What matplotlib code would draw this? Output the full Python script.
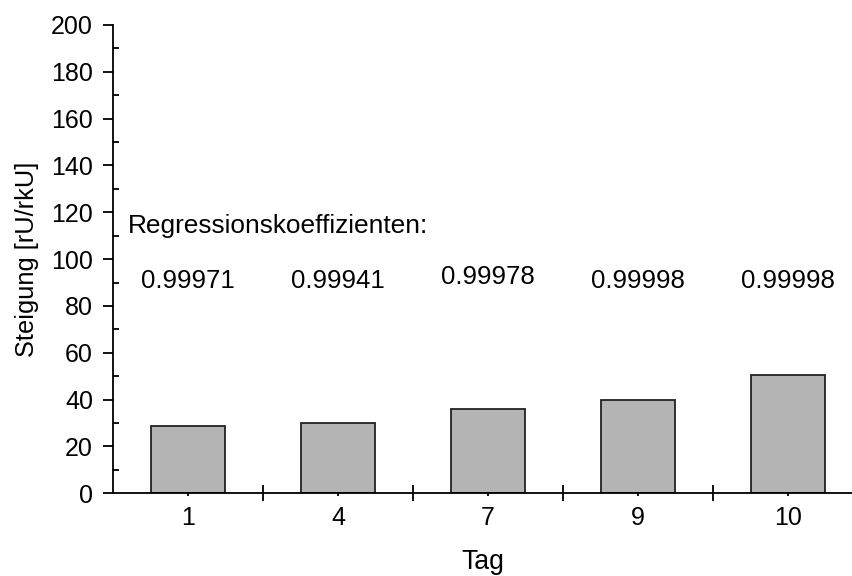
import matplotlib
matplotlib.use('Agg')
from matplotlib import pyplot as plt
from matplotlib.ticker import FixedLocator, MultipleLocator

plt.rcParams['font.family'] = ['Liberation Sans', 'DejaVu Sans']

# Daily slope values and regression coefficients
tage = ['1', '4', '7', '9', '10']
steigung = [28.9, 29.9, 35.8, 39.9, 50.7]
koeffizienten = ['0.99971', '0.99941', '0.99978', '0.99998', '0.99998']
koeff_hoehe = [90.5, 90.5, 92.2, 90.5, 90.5]

fs_tick = 18
fs_text = 18.6
fig = plt.figure(figsize=(8.53, 5.76), dpi=100)
ax = fig.add_axes([0.1325, 0.1436, 0.8675, 0.813])

x = range(len(tage))
ax.bar(x, steigung, width=0.49, color='#b4b4b4', edgecolor='#222222', linewidth=1.3, zorder=2)

for xi, txt, h in zip(x, koeffizienten, koeff_hoehe):
    ax.text(xi, h, txt, ha='center', va='center', fontsize=fs_text)
ax.text(-0.4, 114, 'Regressionskoeffizienten:', ha='left', va='center', fontsize=18.9)

ax.set_xlim(-0.5, 4.433)
ax.set_ylim(0, 200)

ax.spines['top'].set_visible(False)
ax.spines['right'].set_visible(False)
ax.spines['left'].set_linewidth(1.3)
ax.spines['bottom'].set_linewidth(1.3)
ax.spines['bottom'].set_zorder(3)

# category labels at the bar centres, separators between the days
ax.set_xticks(list(x))
ax.set_xticklabels(tage)
ax.xaxis.set_minor_locator(FixedLocator([0.5, 1.5, 2.5, 3.5]))
ax.tick_params(axis='x', which='major', direction='out', length=2, width=1.3, pad=7, labelsize=fs_tick)
ax.tick_params(axis='x', which='minor', direction='inout', length=11, width=1.3)

ax.yaxis.set_major_locator(MultipleLocator(20))
ax.yaxis.set_minor_locator(MultipleLocator(10))
ax.tick_params(axis='y', which='major', direction='out', length=7, width=1.3, pad=7.5, labelsize=fs_tick)
ax.tick_params(axis='y', which='minor', direction='in', length=4, width=1.3)

ax.set_xlabel('Tag', fontsize=19.2, labelpad=13.5)
ax.set_ylabel('Steigung [rU/rkU]', fontsize=18.3, labelpad=9)

fig.savefig('out.png', dpi=100)
